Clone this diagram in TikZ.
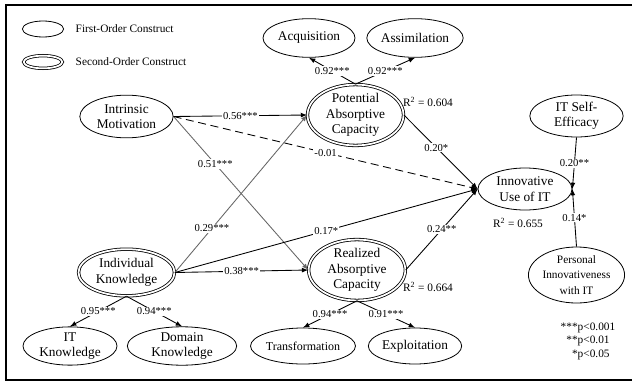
\documentclass[tikz,border=0pt]{standalone}
\usepackage{fontspec}
\setmainfont{Liberation Serif}
\usetikzlibrary{arrows,shapes.geometric}

\tikzset{
  construct/.style={ellipse, draw, line width=0.6pt, inner sep=0pt, align=center,
    minimum width=70pt, minimum height=31pt, font=\fontsize{10}{11.6}\selectfont},
  second/.style={construct, double, double distance=1.3pt},
  coef/.style={fill=white, inner sep=0.8pt, font=\fontsize{8}{9}\selectfont},
  rsq/.style={font=\fontsize{8.5}{10}\selectfont},
  pth/.style={-latex, line width=0.65pt},
  greypth/.style={pth, draw=black!60},
}

\begin{document}
\begin{tikzpicture}[x=0.75pt,y=-0.75pt]
  \useasboundingbox (0,0) rectangle (632,382);
  \draw[line width=1.5pt] (6,5) rectangle (634,380);

  % legend
  \node[construct, minimum width=31pt, minimum height=12pt] (legfirst) at (43,29) {};
  \node[second, minimum width=29pt, minimum height=9.5pt] (legsecond) at (43,62) {};
  \node[anchor=west, font=\fontsize{8.5}{10}\selectfont] (legfirsttxt) at (71,29) {First-Order Construct};
  \node[anchor=west, font=\fontsize{8.5}{10}\selectfont] (legsecondtxt) at (71,62) {Second-Order Construct};

  % constructs
  \node[construct, minimum width=69pt, minimum height=29pt] (acq) at (309,38) {Acquisition};
  \node[construct, minimum width=70pt, minimum height=29pt] (asm) at (415,38) {Assimilation};
  \node[second, minimum width=72pt, minimum height=42.5pt] (pac) at (355.5,115) {Potential\\Absorptive\\Capacity};
  \node[construct, minimum height=32pt] (im) at (126.5,116.5) {Intrinsic\\Motivation};
  \node[construct, minimum width=70.5pt, minimum height=31.5pt] (iuit) at (525,189) {Innovative\\Use of IT};
  \node[construct, minimum height=31.5pt] (itse) at (576.5,116) {IT Self-\\Efficacy};
  \node[construct, minimum height=42pt, font=\fontsize{8.5}{11.6}\selectfont] (piit) at (576.5,275) {Personal\\Innovativeness\\with IT};
  \node[second, minimum width=72pt, minimum height=35pt] (ik) at (126.5,272.5) {Individual\\Knowledge};
  \node[second, minimum width=72.5pt, minimum height=39pt] (rac) at (357,270) {Realized\\Absorptive\\Capacity};
  \node[construct, minimum width=70.5pt, minimum height=27pt] (itk) at (70,346) {IT\\Knowledge};
  \node[construct, minimum width=82pt, minimum height=27pt] (dk) at (182,346) {Domain\\Knowledge};
  \node[construct, minimum width=70pt, minimum height=27pt, font=\fontsize{9}{11}\selectfont] (trans) at (303,346) {Transformation};
  \node[construct, minimum width=70pt, minimum height=27pt] (expl) at (415,346) {Exploitation};

  % loadings
  \draw[pth] (pac.north) -- node[coef] {0.92***} (acq.south);
  \draw[pth] (pac.north) -- node[coef] {0.92***} (asm.south);
  \draw[pth] (ik.south) -- node[coef] {0.95***} (itk.north);
  \draw[pth] (ik.south) -- node[coef] {0.94***} (dk.north);
  \draw[pth] (rac.south) -- node[coef] {0.94***} (trans.north);
  \draw[pth] (rac.south) -- node[coef] {0.91***} (expl.north);

  % structural paths
  \draw[greypth] (im.east) -- node[coef, pos=0.31] {0.51***} (rac.west);
  \draw[greypth] (ik.east) -- node[coef, pos=0.28] {0.29***} (pac.west);
  \draw[pth] (im.east) -- node[coef] {0.56***} (pac.west);
  \draw[pth, dash pattern=on 6pt off 3.5pt] (im.east) -- node[coef] {-0.01} (iuit.west);
  \draw[pth] (ik.east) -- node[coef] {0.17*} (iuit.west);
  \draw[pth] (ik.east) -- node[coef] {0.38***} (rac.west);
  \draw[pth] (pac.east) -- node[coef, pos=0.44] {0.20*} (iuit.west);
  \draw[pth] (rac.east) -- node[coef] {0.24**} (iuit.west);
  \draw[pth] (itse.south) -- node[coef] {0.20**} (iuit.east);
  \draw[pth] (piit.north) -- node[coef] {0.14*} (iuit.east);

  % explained variance
  \node[rsq] (rsqpac) at (428,102) {R\textsuperscript{2} = 0.604};
  \node[rsq] (rsqiuit) at (518,223) {R\textsuperscript{2} = 0.655};
  \node[rsq] (rsqrac) at (428,287) {R\textsuperscript{2} = 0.664};

  % significance
  \node[font=\fontsize{8.5}{10}\selectfont, inner sep=0pt] (sig) at (588,341)
    {\begin{tabular}{@{}r@{}l@{}}***&p<0.001\\{}**&p<0.01\\{}*&p<0.05\end{tabular}};
\end{tikzpicture}
\end{document}
